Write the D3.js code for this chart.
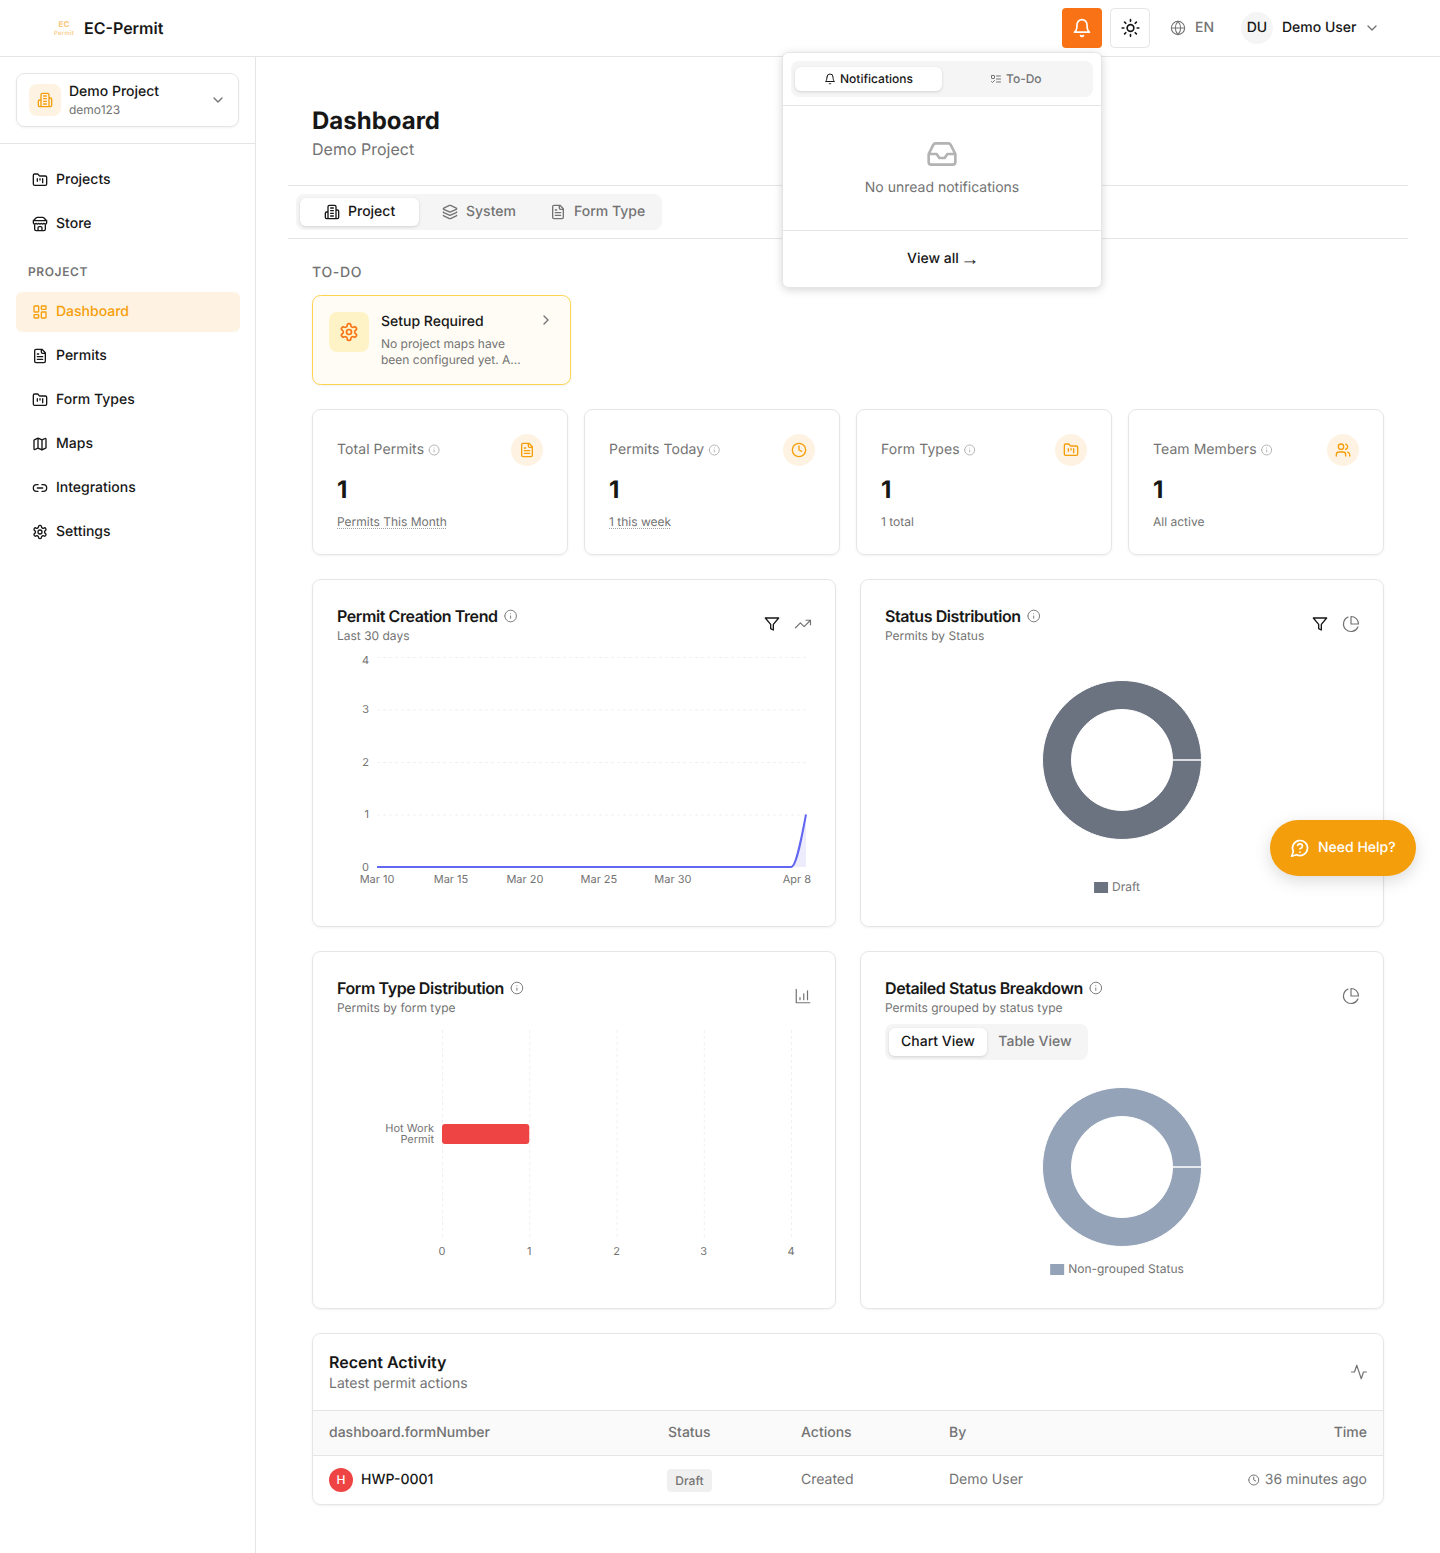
<!DOCTYPE html>
<html>
<head>
<meta charset="utf-8">
<title>EC-Permit Dashboard</title>
<script src="https://cdn.jsdelivr.net/npm/d3@7"></script>
<style>
html, body { margin: 0; padding: 0; background: #fff; }
svg { display: block; font-family: Inter, sans-serif; text-rendering: geometricPrecision; }
.soft { filter: drop-shadow(0 1px 1px rgba(0,0,0,.05)); }
.tab-on { filter: drop-shadow(0 1px 1.5px rgba(0,0,0,.14)); }
.pop { filter: drop-shadow(0 2px 4px rgba(0,0,0,.16)); }
.help { filter: drop-shadow(0 5px 8px rgba(0,0,0,.14)); }
.axis text { font-family: Inter, sans-serif; font-size: 11px; fill: #737373; }
.axis .domain { display: none; }
.grid line { stroke: #f0f0f0; stroke-dasharray: 3 3; }
.grid .domain { display: none; }
</style>
</head>
<body>
<div id="app"></div>
<script>
// chart values
const trendDays = ['Mar 10','Mar 11','Mar 12','Mar 13','Mar 14','Mar 15','Mar 16','Mar 17','Mar 18','Mar 19',
    'Mar 20','Mar 21','Mar 22','Mar 23','Mar 24','Mar 25','Mar 26','Mar 27','Mar 28','Mar 29',
    'Mar 30','Mar 31','Apr 1','Apr 2','Apr 3','Apr 4','Apr 5','Apr 6','Apr 7','Apr 8'];
const trendCounts = [0,0,0,0,0,0,0,0,0,0,0,0,0,0,0,0,0,0,0,0,0,0,0,0,0,0,0,0,0,1];
const trendTicks = ['Mar 10','Mar 15','Mar 20','Mar 25','Mar 30','Apr 8'];
const countTicks = [0,1,2,3,4];
const formTypes = ['Hot Work Permit'];
const formTypeCounts = [1];
const statusNames = ['Draft'];
const statusCounts = [1];
const groupNames = ['Non-grouped Status'];
const groupCounts = [1];

// page text
const navTop = ['Projects','Store'];
const navProject = ['Dashboard','Permits','Form Types','Maps','Integrations','Settings'];
const kpiTitles = ['Total Permits','Permits Today','Form Types','Team Members'];
const kpiValues = [1,1,1,1];
const kpiNotes = ['Permits This Month','1 this week','1 total','All active'];
const activityHeaders = ['dashboard.formNumber','Status','Actions','By','Time'];
const activityRow = ['HWP-0001','Draft','Created','Demo User','36 minutes ago'];

const INK = '#171717', MUTED = '#737373', LINE = '#e5e5e5', AMBER = '#f59e0b', TINT = '#fef3e2';

const ci = (x, y, r) => `M${x - r} ${y}a${r} ${r} 0 1 0 ${2 * r} 0a${r} ${r} 0 1 0 ${-2 * r} 0`;
const icons = {
    bell: 'M6 8a6 6 0 0 1 12 0c0 7 3 9 3 9H3s3-2 3-9M10.3 21a1.94 1.94 0 0 0 3.4 0',
    sun: ci(12, 12, 4) + 'M12 2v2M12 20v2M4.93 4.93l1.41 1.41M17.66 17.66l1.41 1.41M2 12h2M20 12h2M6.34 17.66l-1.41 1.41M19.07 4.93l-1.41 1.41',
    globe: ci(12, 12, 10) + 'M12 2a14.5 14.5 0 0 0 0 20 14.5 14.5 0 0 0 0-20M2 12h20',
    down: 'm6 9 6 6 6-6',
    right: 'm9 18 6-6-6-6',
    building: 'M6 22V4a2 2 0 0 1 2-2h8a2 2 0 0 1 2 2v18ZM6 12H4a2 2 0 0 0-2 2v6a2 2 0 0 0 2 2h2M18 9h2a2 2 0 0 1 2 2v9a2 2 0 0 1-2 2h-2M10 6h4M10 10h4M10 14h4M10 18h4',
    folder: 'M4 20h16a2 2 0 0 0 2-2V8a2 2 0 0 0-2-2h-7.93a2 2 0 0 1-1.66-.9l-.82-1.2A2 2 0 0 0 7.93 3H4a2 2 0 0 0-2 2v13c0 1.1.9 2 2 2ZM8 10v4M12 10v2M16 10v6',
    store: 'm2 7 4.41-4.41A2 2 0 0 1 7.83 2h8.34a2 2 0 0 1 1.42.59L22 7M4 12v8a2 2 0 0 0 2 2h12a2 2 0 0 0 2-2v-8M15 22v-4a2 2 0 0 0-2-2h-2a2 2 0 0 0-2 2v4M2 7h20M22 7v3a2 2 0 0 1-2 2a2.7 2.7 0 0 1-1.59-.63.7.7 0 0 0-.82 0A2.7 2.7 0 0 1 16 12a2.7 2.7 0 0 1-1.59-.63.7.7 0 0 0-.82 0A2.7 2.7 0 0 1 12 12a2.7 2.7 0 0 1-1.59-.63.7.7 0 0 0-.82 0A2.7 2.7 0 0 1 8 12a2.7 2.7 0 0 1-1.59-.63.7.7 0 0 0-.82 0A2.7 2.7 0 0 1 4 12a2 2 0 0 1-2-2V7',
    dash: 'M4 3h5a1 1 0 0 1 1 1v7a1 1 0 0 1-1 1H4a1 1 0 0 1-1-1V4a1 1 0 0 1 1-1ZM15 3h5a1 1 0 0 1 1 1v3a1 1 0 0 1-1 1h-5a1 1 0 0 1-1-1V4a1 1 0 0 1 1-1ZM15 12h5a1 1 0 0 1 1 1v7a1 1 0 0 1-1 1h-5a1 1 0 0 1-1-1v-7a1 1 0 0 1 1-1ZM4 16h5a1 1 0 0 1 1 1v3a1 1 0 0 1-1 1H4a1 1 0 0 1-1-1v-3a1 1 0 0 1 1-1Z',
    file: 'M15 2H6a2 2 0 0 0-2 2v16a2 2 0 0 0 2 2h12a2 2 0 0 0 2-2V7ZM14 2v4a2 2 0 0 0 2 2h4M10 9H8M16 13H8M16 17H8',
    map: 'M14.106 5.553a2 2 0 0 0 1.788 0l3.659-1.83A1 1 0 0 1 21 4.619v12.764a1 1 0 0 1-.553.894l-4.553 2.277a2 2 0 0 1-1.788 0l-4.212-2.106a2 2 0 0 0-1.788 0l-3.659 1.83A1 1 0 0 1 3 19.381V6.618a1 1 0 0 1 .553-.894l4.553-2.277a2 2 0 0 1 1.788 0zM15 5.764v15M9 3.236v15',
    link: 'M9 17H7A5 5 0 0 1 7 7h2M15 7h2a5 5 0 1 1 0 10h-2M8 12h8',
    gear: 'M12.22 2h-.44a2 2 0 0 0-2 2v.18a2 2 0 0 1-1 1.73l-.43.25a2 2 0 0 1-2 0l-.15-.08a2 2 0 0 0-2.73.73l-.22.38a2 2 0 0 0 .73 2.73l.15.1a2 2 0 0 1 1 1.72v.51a2 2 0 0 1-1 1.74l-.15.09a2 2 0 0 0-.73 2.73l.22.38a2 2 0 0 0 2.73.73l.15-.08a2 2 0 0 1 2 0l.43.25a2 2 0 0 1 1 1.73V20a2 2 0 0 0 2 2h.44a2 2 0 0 0 2-2v-.18a2 2 0 0 1 1-1.73l.43-.25a2 2 0 0 1 2 0l.15.08a2 2 0 0 0 2.73-.73l.22-.39a2 2 0 0 0-.73-2.73l-.15-.08a2 2 0 0 1-1-1.74v-.5a2 2 0 0 1 1-1.74l.15-.09a2 2 0 0 0 .73-2.73l-.22-.38a2 2 0 0 0-2.73-.73l-.15.08a2 2 0 0 1-2 0l-.43-.25a2 2 0 0 1-1-1.73V4a2 2 0 0 0-2-2z' + ci(12, 12, 3),
    layers: 'M12.83 2.18a2 2 0 0 0-1.66 0L2.6 6.08a1 1 0 0 0 0 1.83l8.58 3.91a2 2 0 0 0 1.66 0l8.58-3.9a1 1 0 0 0 0-1.83ZM2 12a1 1 0 0 0 .58.91l8.6 3.91a2 2 0 0 0 1.65 0l8.58-3.9A1 1 0 0 0 22 12M2 17a1 1 0 0 0 .58.91l8.6 3.91a2 2 0 0 0 1.65 0l8.58-3.9A1 1 0 0 0 22 17',
    todo: 'M4 5h4a1 1 0 0 1 1 1v4a1 1 0 0 1-1 1H4a1 1 0 0 1-1-1V6a1 1 0 0 1 1-1Zm-1 12 2 2 4-4M13 6h8M13 12h8M13 18h8',
    inbox: 'M22 12h-6l-2 3h-4l-2-3H2M5.45 5.11 2 12v6a2 2 0 0 0 2 2h16a2 2 0 0 0 2-2v-6l-3.45-6.89A2 2 0 0 0 16.76 4H7.24a2 2 0 0 0-1.79 1.11z',
    info: ci(12, 12, 10) + 'M12 16v-4M12 8h.01',
    clock: ci(12, 12, 10) + 'M12 6v6l4 2',
    users: 'M16 21v-2a4 4 0 0 0-4-4H6a4 4 0 0 0-4 4v2M16 3.128a4 4 0 0 1 0 7.744M22 21v-2a4 4 0 0 0-3-3.87' + ci(9, 7, 4),
    filter: 'M22 3H2l8 9.46V19l4 2v-8.54L22 3z',
    trend: 'M22 7 13.5 15.5 8.5 10.5 2 17M16 7h6v6',
    pie: 'M21.21 15.89A10 10 0 1 1 8 2.83M22 12A10 10 0 0 0 12 2v10z',
    bars: 'M3 3v18h18M13 17V9M18 17V5M8 17v-3',
    activity: 'M22 12h-4l-3 9L9 3l-3 9H2',
    help: 'M7.9 20A9 9 0 1 0 4 16.1L2 22ZM9.09 9a3 3 0 0 1 5.83 1c0 2-3 3-3 3M12 17h.01'
};

const svg = d3.select('#app').append('svg').attr('width', 1440).attr('height', 1553);

function txt(parent, str, x, y, o = {}) {
    const size = o.size || 14;
    const nudge = (size === 14 || size === 16) ? -.4 : -1;
    return parent.append('text')
        .attr('x', x).attr('y', y + nudge)
        .attr('dominant-baseline', 'central')
        .attr('text-anchor', o.anchor || 'start')
        .attr('font-size', size)
        .attr('font-weight', o.weight || 400)
        .attr('letter-spacing', o.ls || null)
        .attr('fill', o.fill || INK)
        .text(str);
}

function box(parent, x, y, w, h, r, fill, stroke, cls) {
    return parent.append('rect')
        .attr('x', x + (stroke ? .5 : 0)).attr('y', y + (stroke ? .5 : 0))
        .attr('width', w - (stroke ? 1 : 0)).attr('height', h - (stroke ? 1 : 0))
        .attr('rx', r)
        .attr('fill', fill).attr('stroke', stroke || 'none')
        .attr('class', cls || null);
}

function icon(parent, name, cx, cy, size, color, sw = 2) {
    parent.append('path')
        .attr('transform', `translate(${cx - size / 2},${cy - size / 2}) scale(${size / 24})`)
        .attr('d', icons[name])
        .attr('fill', 'none').attr('stroke', color)
        .attr('stroke-width', sw)
        .attr('stroke-linecap', 'round').attr('stroke-linejoin', 'round');
}

function hline(parent, x1, x2, y) {
    parent.append('line').attr('x1', x1).attr('x2', x2).attr('y1', y + .5).attr('y2', y + .5).attr('stroke', LINE);
}

// ---- main column frame
hline(svg, 288, 1408, 185);
hline(svg, 288, 1408, 238);
txt(svg, 'Dashboard', 312, 121, { size: 24, weight: 700 });
txt(svg, 'Demo Project', 312, 149, { size: 16, fill: MUTED });

box(svg, 296, 194, 366, 36, 8, '#f5f5f5');
box(svg, 300, 198, 119, 28, 6, '#fff', null, 'tab-on');
icon(svg, 'building', 332, 212, 16, INK);
txt(svg, 'Project', 348, 212, { weight: 500 });
icon(svg, 'layers', 450, 212, 16, MUTED);
txt(svg, 'System', 466, 212, { weight: 500, fill: MUTED });
icon(svg, 'file', 558, 212, 16, MUTED);
txt(svg, 'Form Type', 574, 212, { weight: 500, fill: MUTED });

// ---- to-do
txt(svg, 'TO-DO', 312, 273, { weight: 500, fill: MUTED, ls: '0.05em' });
box(svg, 312, 295, 259, 90, 8, '#fffcf5', '#fcd34d', 'soft');
box(svg, 329, 312, 40, 40, 8, '#fef3c7');
icon(svg, 'gear', 349, 332, 20, '#f97316');
txt(svg, 'Setup Required', 381, 322, { weight: 500 });
icon(svg, 'right', 546, 320, 16, MUTED);
txt(svg, 'No project maps have', 381, 344, { size: 12, fill: MUTED });
txt(svg, 'been configured yet. A...', 381, 360, { size: 12, fill: MUTED });

// ---- kpi cards
const kpiIcons = ['file', 'clock', 'folder', 'users'];
kpiTitles.forEach((title, i) => {
    const x = 312 + i * 272;
    box(svg, x, 409, 256, 146, 8, '#fff', LINE, 'soft');
    const t = txt(svg, title, x + 25, 450, { fill: MUTED, ls: '0.005em' });
    icon(svg, 'info', x + 25 + t.node().getComputedTextLength() + 10, 450, 12, '#a3a3a3', 1.6);
    svg.append('circle').attr('cx', x + 215).attr('cy', 450).attr('r', 16).attr('fill', TINT);
    icon(svg, kpiIcons[i], x + 215, 450, 16, AMBER);
    txt(svg, kpiValues[i], x + 25, 490, { size: 24, weight: 700 });
    const n = txt(svg, kpiNotes[i], x + 25, 522, { size: 12, fill: MUTED });
    if (i < 2) {
        svg.append('line')
            .attr('x1', x + 25).attr('x2', x + 25 + n.node().getComputedTextLength())
            .attr('y1', 528.5).attr('y2', 528.5)
            .attr('stroke', '#a3a3a3').attr('stroke-dasharray', '1 1');
    }
});

// ---- chart cards
function chartCard(x, y, h, title, sub, rightIcons) {
    box(svg, x, y, 524, h, 8, '#fff', LINE, 'soft');
    const t = txt(svg, title, x + 25, y + 37, { size: 16, weight: 600, ls: '-0.026em' });
    icon(svg, 'info', x + 25 + t.node().getComputedTextLength() + 13, y + 37, 14, MUTED, 1.6);
    txt(svg, sub, x + 25, y + 57, { size: 12, fill: MUTED });
    rightIcons.forEach((name, i) => {
        const cx = x + 491 - (rightIcons.length - 1 - i) * 31;
        if (name === 'filter') icon(svg, name, cx, y + 45, 16, INK);
        else icon(svg, name, cx, y + 45, 18, MUTED, 1.6);
    });
}

chartCard(312, 579, 348, 'Permit Creation Trend', 'Last 30 days', ['filter', 'trend']);
chartCard(860, 579, 348, 'Status Distribution', 'Permits by Status', ['filter', 'pie']);
chartCard(312, 951, 358, 'Form Type Distribution', 'Permits by form type', ['bars']);
chartCard(860, 951, 358, 'Detailed Status Breakdown', 'Permits grouped by status type', ['pie']);

// trend line
const trendX = d3.scalePoint().domain(trendDays).range([377, 806]);
const trendY = d3.scaleLinear().domain([0, 4]).range([867, 657]);
const trendData = trendDays.map((d, i) => ({ day: d, count: trendCounts[i] }));

svg.append('g').attr('class', 'grid')
    .attr('transform', 'translate(377,0)')
    .call(d3.axisLeft(trendY).tickValues(countTicks.slice(1)).tickSize(-429).tickFormat(''));

const yAxis = svg.append('g').attr('class', 'axis')
    .attr('transform', 'translate(369,0)')
    .call(d3.axisLeft(trendY).offset(0).tickValues(countTicks).tickSize(0).tickPadding(0).tickFormat(d3.format('d')));
yAxis.selectAll('.tick').filter(d => d === 4).select('text').attr('dy', '.62em');

const xAxis = svg.append('g').attr('class', 'axis')
    .attr('transform', 'translate(0,867)')
    .call(d3.axisBottom(trendX).offset(0).tickValues(trendTicks).tickSize(0).tickPadding(8));
xAxis.selectAll('.tick').filter(d => d === 'Apr 8').select('text').attr('text-anchor', 'end').attr('x', 5);

svg.append('path').datum(trendData)
    .attr('d', d3.area().x(d => trendX(d.day)).y0(trendY(0)).y1(d => trendY(d.count)).curve(d3.curveMonotoneX))
    .attr('fill', '#6366f1').attr('fill-opacity', .12);
svg.append('path').datum(trendData)
    .attr('d', d3.line().x(d => trendX(d.day)).y(d => trendY(d.count)).curve(d3.curveMonotoneX))
    .attr('fill', 'none').attr('stroke', '#6366f1').attr('stroke-width', 2);

// form type bars
const barX = d3.scaleLinear().domain([0, 4]).range([442, 791]);
const barY = d3.scaleBand().domain(formTypes).range([1030, 1238]).paddingInner(.1).paddingOuter(.4);
const barH = 20;

svg.append('g').attr('class', 'grid')
    .attr('transform', 'translate(0,1237)')
    .call(d3.axisBottom(barX).tickValues(countTicks).tickSize(-209).tickFormat(''));

svg.append('g').attr('class', 'axis')
    .attr('transform', 'translate(0,1237)')
    .call(d3.axisBottom(barX).offset(0).tickValues(countTicks).tickSize(0).tickPadding(10).tickFormat(d3.format('d')));

svg.append('g').selectAll('rect')
    .data(formTypes)
    .join('rect')
    .attr('x', barX(0))
    .attr('y', d => barY(d) + barY.bandwidth() / 2 - barH / 2)
    .attr('width', (d, i) => barX(formTypeCounts[i]) - barX(0))
    .attr('height', barH)
    .attr('rx', 3)
    .attr('fill', '#ef4444');

formTypes.forEach(name => {
    const mid = barY(name) + barY.bandwidth() / 2;
    // category label wraps onto two lines
    const words = name.split(' ');
    const lines = [words.slice(0, 2).join(' '), words.slice(2).join(' ')];
    lines.forEach((l, i) => txt(svg, l, 434, mid - 5.5 + i * 11, { size: 11, fill: MUTED, anchor: 'end' }));
});

// donuts
function donut(cy, names, values, color, legendY) {
    const pie = d3.pie().sort(null).startAngle(Math.PI / 2).endAngle(Math.PI / 2 + 2 * Math.PI - 1e-4);
    const arc = d3.arc().innerRadius(50.5).outerRadius(79.5);
    svg.append('g').attr('transform', `translate(1122,${cy})`)
        .selectAll('path')
        .data(pie(values))
        .join('path')
        .attr('d', arc)
        .attr('fill', color)
        .attr('stroke', '#fff').attr('stroke-width', 1);
    const probe = txt(svg, names[0], 0, legendY, { size: 12, fill: MUTED });
    const w = probe.node().getComputedTextLength() + 18;
    const left = 1122 - w / 2 - 5;
    probe.attr('x', left + 18);
    svg.append('rect').attr('x', left).attr('y', legendY - 5).attr('width', 14).attr('height', 11).attr('fill', color);
}
donut(760, statusNames, statusCounts, '#6b7280', 887);
donut(1167, groupNames, groupCounts, '#94a3b8', 1269);

box(svg, 885, 1024, 203, 36, 8, '#f5f5f5');
box(svg, 889, 1028, 98, 28, 6, '#fff', null, 'tab-on');
txt(svg, 'Chart View', 938, 1042, { weight: 500, anchor: 'middle' });
txt(svg, 'Table View', 1035, 1042, { weight: 500, fill: MUTED, anchor: 'middle' });

// ---- recent activity
box(svg, 312, 1333, 1072, 172, 8, '#fff', LINE, 'soft');
txt(svg, 'Recent Activity', 329, 1362, { size: 16, weight: 600 });
txt(svg, 'Latest permit actions', 329, 1384, { fill: MUTED });
icon(svg, 'activity', 1359, 1372, 18, MUTED, 1.6);
svg.append('rect').attr('x', 313).attr('y', 1411).attr('width', 1070).attr('height', 44).attr('fill', '#fafafa');
hline(svg, 313, 1383, 1410);
hline(svg, 313, 1383, 1455);
const colX = [329, 668, 801, 949];
activityHeaders.forEach((h, i) => {
    if (i < 4) txt(svg, h, colX[i], 1433, { fill: MUTED, weight: 500 });
    else txt(svg, h, 1367, 1433, { fill: MUTED, weight: 500, anchor: 'end' });
});
svg.append('circle').attr('cx', 341).attr('cy', 1480).attr('r', 12).attr('fill', '#ef4444');
txt(svg, 'H', 341, 1480, { size: 12, weight: 500, fill: '#fff', anchor: 'middle' });
txt(svg, activityRow[0], 361, 1480, { weight: 500 });
box(svg, 667, 1469, 45, 23, 4, '#f0f0f0');
txt(svg, activityRow[1], 689.5, 1481, { size: 12, weight: 500, fill: MUTED, anchor: 'middle' });
txt(svg, activityRow[2], 801, 1480, { fill: MUTED });
txt(svg, activityRow[3], 949, 1480, { fill: MUTED });
const ago = txt(svg, activityRow[4], 1367, 1480, { fill: MUTED, anchor: 'end' });
icon(svg, 'clock', 1367 - ago.node().getComputedTextLength() - 11, 1480, 12, MUTED);

// ---- sidebar
svg.append('line').attr('x1', 255.5).attr('x2', 255.5).attr('y1', 57).attr('y2', 1553).attr('stroke', LINE);
hline(svg, 0, 255, 143);
box(svg, 16, 73, 223, 54, 8, '#fff', LINE, 'soft');
box(svg, 29, 84, 32, 32, 8, TINT);
icon(svg, 'building', 45, 100, 16, AMBER);
txt(svg, 'Demo Project', 69, 92, { weight: 500 });
txt(svg, 'demo123', 69, 110, { size: 12, fill: MUTED });
icon(svg, 'down', 218, 100, 16, MUTED);

const navIcons = { Projects: 'folder', Store: 'store', Dashboard: 'dash', Permits: 'file', 'Form Types': 'folder', Maps: 'map', Integrations: 'link', Settings: 'gear' };
function navItem(label, y, active) {
    if (active) box(svg, 16, y - 20, 224, 40, 6, TINT);
    icon(svg, navIcons[label], 40, y, 16, active ? AMBER : INK);
    txt(svg, label, 56, y, { weight: 500, fill: active ? AMBER : INK });
}
navTop.forEach((label, i) => navItem(label, 180 + i * 44, false));
txt(svg, 'PROJECT', 28, 272, { size: 12, weight: 600, fill: MUTED, ls: '0.05em' });
navProject.forEach((label, i) => navItem(label, 312 + i * 44, label === 'Dashboard'));

// ---- header
hline(svg, 0, 1440, 56);
// logo wordmark
svg.append('text').attr('x', 64).attr('y', 27).attr('text-anchor', 'middle').attr('fill', '#f9c77a')
    .attr('font-size', 8).attr('font-weight', 700).text('EC');
svg.append('text').attr('x', 64).attr('y', 34.7).attr('text-anchor', 'middle').attr('fill', '#f9c77a')
    .attr('font-size', 6).attr('font-weight', 500).attr('letter-spacing', '.04em').text('Permit');
txt(svg, 'EC-Permit', 84, 28, { size: 16, weight: 600 });
box(svg, 1062, 8, 40, 40, 4, '#f97316');
icon(svg, 'bell', 1082, 28, 20, '#fff');
box(svg, 1110, 8, 40, 40, 4, '#fff', LINE);
icon(svg, 'sun', 1130.5, 28, 20, INK);
icon(svg, 'globe', 1178, 28, 16, MUTED, 1.6);
txt(svg, 'EN', 1195, 28, { fill: MUTED, weight: 500 });
svg.append('circle').attr('cx', 1257).attr('cy', 28).attr('r', 16).attr('fill', '#f5f5f5');
txt(svg, 'DU', 1257, 28, { weight: 500, anchor: 'middle' });
txt(svg, 'Demo User', 1282, 28, { weight: 500 });
icon(svg, 'down', 1372, 28, 16, MUTED);

// ---- notifications popover
box(svg, 782, 52, 320, 236, 6, '#fff', LINE, 'pop');
box(svg, 791, 61, 302, 36, 8, '#f5f5f5');
box(svg, 795, 67, 147, 24, 6, '#fff', null, 'tab-on');
icon(svg, 'bell', 830, 79, 12, INK);
txt(svg, 'Notifications', 840, 79, { size: 12, weight: 500 });
icon(svg, 'todo', 996, 79, 12, MUTED);
txt(svg, 'To-Do', 1006, 79, { size: 12, weight: 500, fill: MUTED });
hline(svg, 783, 1101, 105);
icon(svg, 'inbox', 942, 154, 32, '#b3b3b3');
txt(svg, 'No unread notifications', 942, 188, { fill: MUTED, anchor: 'middle' });
hline(svg, 783, 1101, 230);
// the arrow glyph comes from a wider fallback font, as in the original
const viewAll = txt(svg, 'View all', 907, 259, { weight: 500 });
viewAll.append('tspan').attr('x', 960.5)
    .attr('font-family', "'Liberation Sans', sans-serif").attr('font-size', 19).attr('font-weight', 400)
    .text('→');

// ---- help button
box(svg, 1270, 820, 146, 56, 28, AMBER, null, 'help');
icon(svg, 'help', 1300, 848, 20, '#fff');
txt(svg, 'Need Help?', 1318, 848, { weight: 500, fill: '#fff' });
</script>
</body>
</html>
